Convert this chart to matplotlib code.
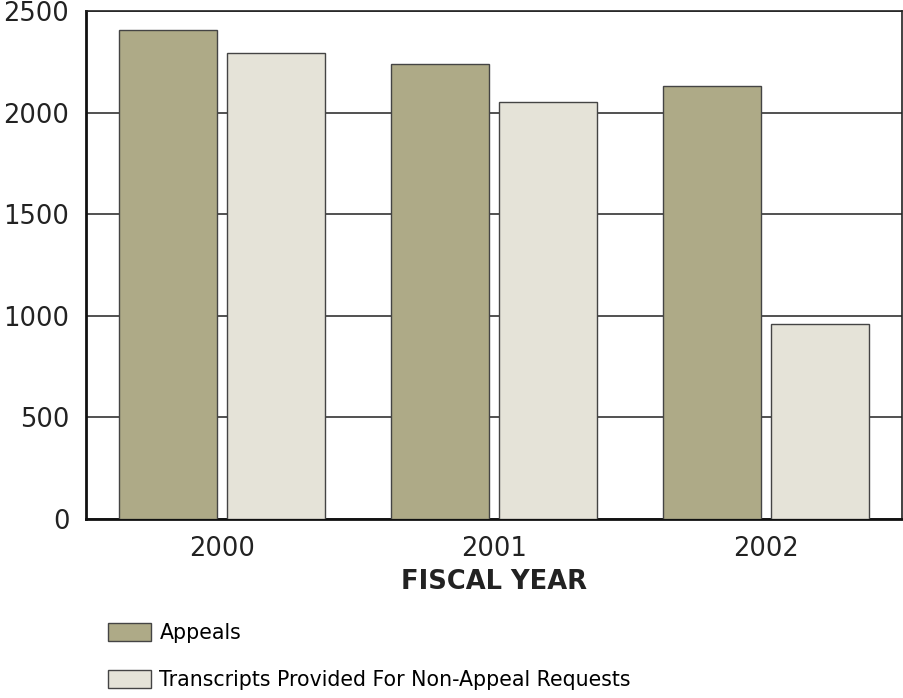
import matplotlib.pyplot as plt
import numpy as np

years = ["2000", "2001", "2002"]
appeals = [2406, 2241, 2129]
transcripts = [2291, 2054, 958]
series_labels = ["Appeals", "Transcripts Provided For Non-Appeal Requests"]
y_ticks = [0, 500, 1000, 1500, 2000, 2500]

APPEALS_COLOR = "#AEAA87"
TRANSCRIPT_COLOR = "#E5E3D8"
EDGE = "#444444"


def main() -> None:
    fig = plt.figure(figsize=(9.04, 6.98), dpi=100)
    ax = fig.add_axes([0.0951, 0.2564, 0.9027, 0.7278])

    x = np.arange(len(years))
    width = 0.36
    ax.bar(x - 0.2, appeals, width, color=APPEALS_COLOR, edgecolor=EDGE,
           linewidth=1.0, label=series_labels[0], zorder=3)
    ax.bar(x + 0.2, transcripts, width, color=TRANSCRIPT_COLOR, edgecolor=EDGE,
           linewidth=1.0, label=series_labels[1], zorder=3)

    ax.set_xlim(-0.5, 2.5)
    ax.set_ylim(0, 2500)
    ax.set_yticks(y_ticks)
    ax.set_xticks(x)
    ax.set_xticklabels(years)
    ax.tick_params(axis="both", length=0, labelsize=18.5, colors="#222222")
    ax.tick_params(axis="y", pad=12)
    ax.tick_params(axis="x", pad=12)
    ax.yaxis.grid(True, color="#333333", linewidth=1.2, zorder=0)
    ax.set_axisbelow(True)

    for side in ["left", "bottom"]:
        ax.spines[side].set_linewidth(2.0)
        ax.spines[side].set_color("#111111")
    for side in ["top", "right"]:
        ax.spines[side].set_linewidth(1.2)
        ax.spines[side].set_color("#222222")

    ax.set_xlabel("FISCAL YEAR", fontsize=18.5, fontweight="bold", color="#222222", labelpad=5)

    fig.legend(loc="upper left", bbox_to_anchor=(0.1195, 0.108), frameon=False,
               fontsize=14.8, handlelength=2.1, handleheight=1.0, handletextpad=0.4,
               labelspacing=1.3, borderpad=0, borderaxespad=0)

    fig.savefig("out.png", dpi=100)
    plt.close(fig)


if __name__ == "__main__":
    main()
